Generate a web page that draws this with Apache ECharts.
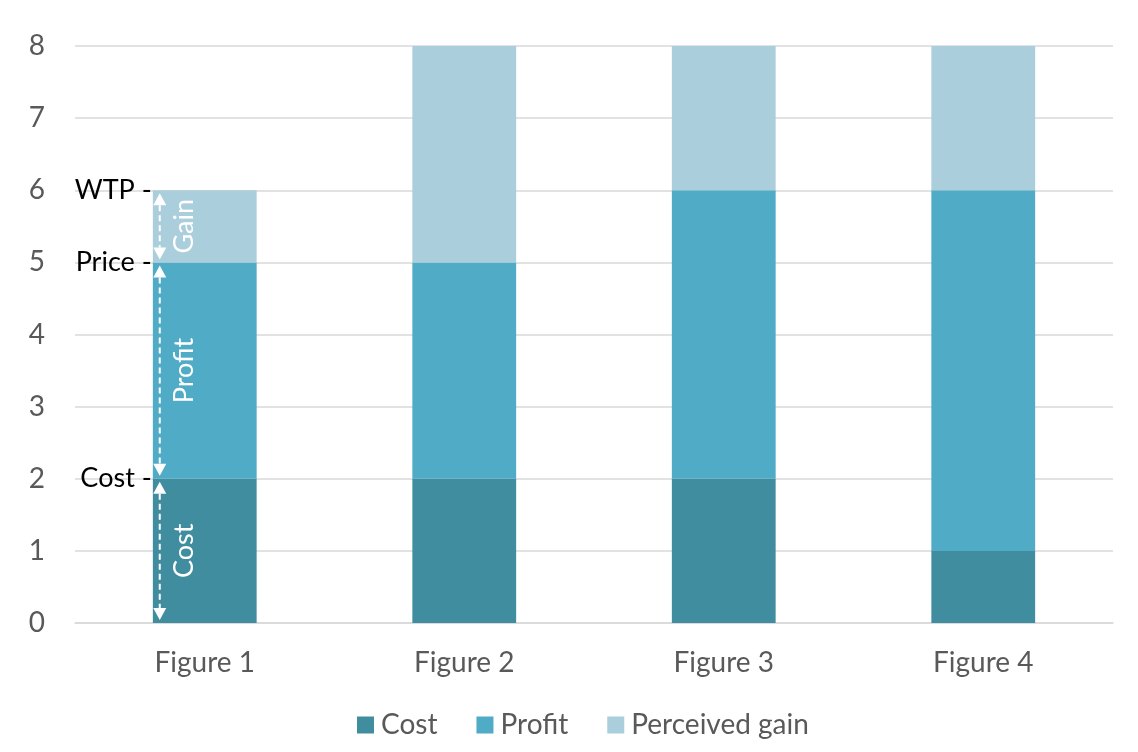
<!DOCTYPE html>
<html><head><meta charset="utf-8">
<script src="https://cdn.jsdelivr.net/npm/echarts@6/dist/echarts.min.js"></script>
<style>html,body{margin:0;padding:0;background:#fff}#c{width:1138px;height:752px}</style>
</head><body><div id="c"></div>
<script>
const categories = ['Figure 1', 'Figure 2', 'Figure 3', 'Figure 4'];
const cost = [2, 2, 2, 1];
const profit = [3, 3, 4, 5];
const gain = [1, 3, 2, 2];
const seriesNames = ['Cost', 'Profit', 'Perceived gain'];
const levelLabels = ['Cost', 'Price', 'WTP'];
const segmentLabels = ['Cost', 'Profit', 'Gain'];

const FONT = 'Lato, "Open Sans", sans-serif';
const colors = ['#418DA0', '#50ABC6', '#AACEDC'];

// annotation data for Figure 1: [catIndex, start, end, segmentLabel, levelLabel]
const annot = [];
let acc = 0;
[cost[0], profit[0], gain[0]].forEach((v, i) => {
  annot.push([0, acc, acc + v, segmentLabels[i], levelLabels[i]]);
  acc += v;
});

const chart = echarts.init(document.getElementById('c'));
chart.setOption({
  animation: false,
  color: colors,
  grid: {left: 75, right: 25, top: 46, bottom: 129},
  legend: {
    bottom: 8, left: 352,
    itemWidth: 17, itemHeight: 17, itemGap: 39,
    icon: 'rect',
    data: seriesNames,
    textStyle: {fontFamily: FONT, fontSize: 28, color: '#595959', padding: [0, 0, 0, 2]}
  },
  xAxis: {
    type: 'category', data: categories,
    axisLine: {lineStyle: {color: '#D9D9D9', width: 1.5}},
    axisTick: {show: false},
    axisLabel: {fontFamily: FONT, fontSize: 28, color: '#595959', margin: 26}
  },
  yAxis: {
    type: 'value', min: 0, max: 8, interval: 1,
    axisLine: {show: false}, axisTick: {show: false},
    splitLine: {lineStyle: {color: '#D9D9D9', width: 1.5}},
    axisLabel: {fontFamily: FONT, fontSize: 28, color: '#595959', margin: 30}
  },
  series: [
    {name: seriesNames[0], type: 'bar', stack: 's', barWidth: '40%', data: cost},
    {name: seriesNames[1], type: 'bar', stack: 's', data: profit},
    {name: seriesNames[2], type: 'bar', stack: 's', data: gain},
    {
      type: 'custom', z: 10, silent: true,
      data: annot,
      renderItem: function (params, api) {
        const c = api.value(0);
        const p0 = api.coord([c, api.value(1)]);
        const p1 = api.coord([c, api.value(2)]);
        const ax = p0[0] - 45;
        const yb = p0[1], yt = p1[1];
        const tipGap = 3, ah = 12, aw = 6.5;
        const children = [];
        children.push({
          type: 'line',
          shape: {x1: ax, y1: yt + tipGap + ah, x2: ax, y2: yb - tipGap - ah},
          style: {stroke: '#fff', lineWidth: 2, lineDash: [6, 4]}
        });
        children.push({
          type: 'polygon',
          shape: {points: [[ax, yt + tipGap], [ax - aw, yt + tipGap + ah], [ax + aw, yt + tipGap + ah]]},
          style: {fill: '#fff'}
        });
        children.push({
          type: 'polygon',
          shape: {points: [[ax, yb - tipGap], [ax - aw, yb - tipGap - ah], [ax + aw, yb - tipGap - ah]]},
          style: {fill: '#fff'}
        });
        children.push({
          type: 'text',
          x: p0[0] - 20, y: (yb + yt) / 2, rotation: Math.PI / 2,
          style: {text: api.value(3), fill: '#fff', font: '27px ' + FONT, align: 'center', verticalAlign: 'middle'}
        });
        children.push({
          type: 'text',
          x: p0[0] - 53, y: yt,
          style: {text: api.value(4) + ' -', fill: '#000', font: '27px ' + FONT, align: 'right', verticalAlign: 'middle'}
        });
        return {type: 'group', children: children};
      }
    }
  ]
});
</script></body></html>
